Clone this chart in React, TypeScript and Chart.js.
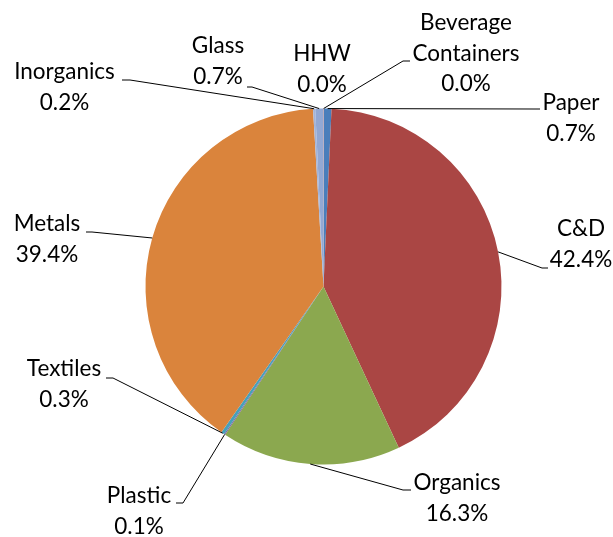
import React, { useEffect, useRef } from "react";
import { Chart, registerables } from "chart.js";

Chart.register(...registerables);

// Data (clockwise from 12 o'clock)
const categories = [
  "Beverage Containers",
  "Paper",
  "C&D",
  "Organics",
  "Plastic",
  "Textiles",
  "Metals",
  "Inorganics",
  "Glass",
  "HHW",
];
const labelLines = [
  ["Beverage", "Containers"],
  ["Paper"],
  ["C&D"],
  ["Organics"],
  ["Plastic"],
  ["Textiles"],
  ["Metals"],
  ["Inorganics"],
  ["Glass"],
  ["HHW"],
];
const shares = [0.02, 0.7, 42.4, 16.3, 0.1, 0.3, 39.4, 0.2, 0.7, 0.04];
const sliceColors = [
  "#3F6FA8",
  "#4A7EBB",
  "#AA4644",
  "#8BA84F",
  "#7D60A0",
  "#46A0BB",
  "#DA843C",
  "#A3B4D8",
  "#92A8D4",
  "#D99694",
];

// Label layout: text centre x, first baseline y, leader path near label (null = none)
type LabelLayout = { x: number; y: number; leader: number[][] | null };
const labelLayout: LabelLayout[] = [
  { x: 466, y: 30, leader: [[403, 61], [410, 61]] },
  { x: 571, y: 110, leader: [[533, 109], [540, 109]] },
  { x: 581, y: 236, leader: [[542, 268], [548, 268]] },
  { x: 457, y: 490, leader: [[403, 490], [411, 490]] },
  { x: 139, y: 503, leader: [[183, 503], [176, 503]] },
  { x: 64, y: 376, leader: [[113, 378], [106, 378]] },
  { x: 47, y: 231, leader: [[92, 232], [86, 232]] },
  { x: 64.5, y: 79, leader: [[130, 80], [122, 80]] },
  { x: 218, y: 53, leader: [[252, 87], [247, 87]] },
  { x: 322, y: 61, leader: null },
];
const LINE_H = 30.5;
const FONT = "22.5px Lato, 'DejaVu Sans', sans-serif";

const labelPlugin = {
  id: "pieLabels",
  afterDatasetsDraw(chart: any) {
    const ctx = chart.ctx;
    const meta = chart.getDatasetMeta(0);
    const ds = chart.data.datasets[0];
    ctx.save();
    // leader lines
    ctx.strokeStyle = "#000";
    ctx.lineWidth = 1;
    meta.data.forEach((arc: any, i: number) => {
      const lay = labelLayout[i];
      if (!lay.leader) return;
      const p = arc.getProps(["x", "y", "startAngle", "endAngle", "outerRadius"], true);
      const mid = (p.startAngle + p.endAngle) / 2;
      const ax = p.x + Math.cos(mid) * p.outerRadius;
      const ay = p.y + Math.sin(mid) * p.outerRadius;
      ctx.beginPath();
      ctx.moveTo(ax, ay);
      lay.leader.forEach((pt) => ctx.lineTo(pt[0], pt[1]));
      ctx.stroke();
    });
    // texts
    ctx.fillStyle = "#000";
    ctx.font = FONT;
    ctx.textAlign = "center";
    ctx.textBaseline = "alphabetic";
    meta.data.forEach((_arc: any, i: number) => {
      const lay = labelLayout[i];
      const lines = [...labelLines[i], Number(ds.data[i]).toFixed(1) + "%"];
      lines.forEach((t, k) => ctx.fillText(t, lay.x, lay.y + k * LINE_H));
    });
    ctx.restore();
  },
};

export default function App() {
  const ref = useRef<HTMLCanvasElement | null>(null);
  useEffect(() => {
    document.body.style.margin = "0";
    const chart = new Chart(ref.current as HTMLCanvasElement, {
      type: "pie",
      data: {
        labels: categories,
        datasets: [
          {
            data: shares,
            backgroundColor: sliceColors,
            borderWidth: 0,
          },
        ],
      },
      options: {
        animation: false,
        responsive: false,
        devicePixelRatio: 1,
        layout: { padding: { top: 108.5, bottom: 72.5, left: 145.5, right: 111.5 } },
        plugins: { legend: { display: false }, tooltip: { enabled: false } },
      },
      plugins: [labelPlugin],
    } as any);
    return () => chart.destroy();
  }, []);
  return (
    <div style={{ position: "absolute", left: 0, top: 0, width: 613, height: 537, background: "#fff" }}>
      <canvas ref={ref} width={613} height={537} />
    </div>
  );
}
